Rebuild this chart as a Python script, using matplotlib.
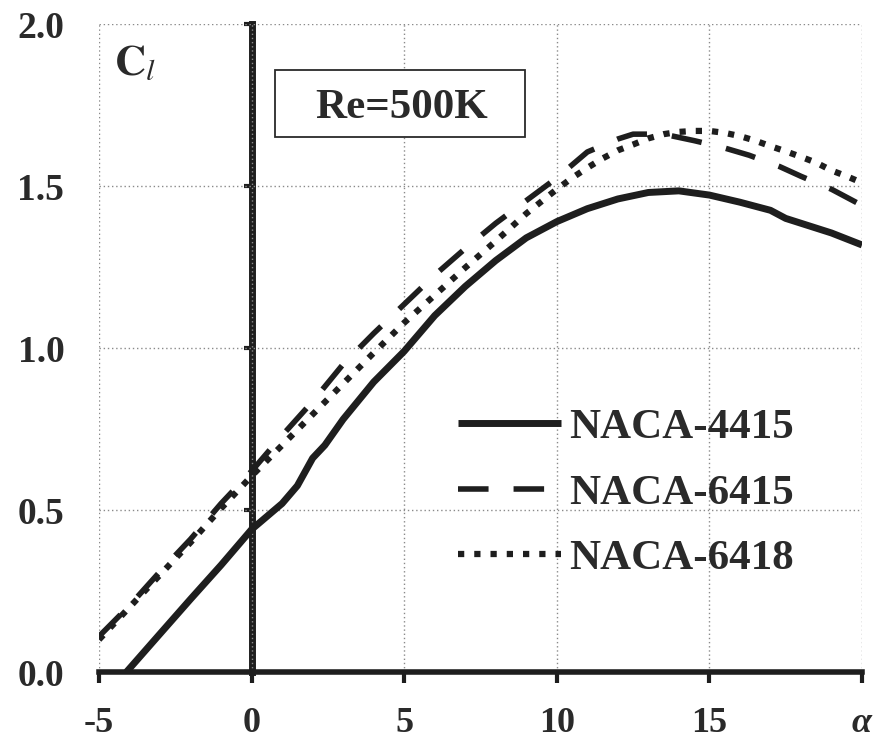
import matplotlib
matplotlib.use("Agg")
import matplotlib.pyplot as plt
from matplotlib.patches import Rectangle

plt.rcParams['font.family'] = ['Liberation Serif', 'DejaVu Serif']
plt.rcParams['mathtext.fontset'] = 'stix'

# ---- data ----
alpha_4415 = [-4.1, -3, -2, -1, 0, 0.5, 1.0, 1.5, 2.0, 2.4, 3, 4, 5, 6, 7, 8, 9, 10,
              11, 12, 13, 14, 15, 16, 17, 17.5, 18, 19, 20]
cl_4415 = [0.0, 0.118, 0.225, 0.33, 0.44, 0.48, 0.52, 0.575, 0.66, 0.70, 0.78, 0.895,
           0.99, 1.10, 1.19, 1.27, 1.34, 1.39, 1.43, 1.46, 1.48, 1.485, 1.472, 1.45,
           1.425, 1.40, 1.385, 1.355, 1.318]

alpha_6415 = [-5, -4, -3, -2, -1, 0, 1, 2, 3, 4, 5, 6, 7, 8, 9, 10, 11, 12, 12.5,
              13.5, 14.5, 15.4, 16.3, 17.3, 18, 19, 20]
cl_6415 = [0.11, 0.205, 0.31, 0.41, 0.52, 0.62, 0.73, 0.835, 0.95, 1.045, 1.135,
           1.225, 1.307, 1.385, 1.455, 1.525, 1.605, 1.645, 1.66, 1.66, 1.64, 1.62,
           1.595, 1.56, 1.53, 1.49, 1.44]

alpha_6418 = [-5, -4, -3, -2, -1, 0, 1, 2, 3, 4, 5, 6, 7, 8, 9, 10, 10.5, 11, 11.5,
              12, 12.5, 13, 13.5, 14, 14.5, 15, 15.5, 16, 16.5, 17, 17.5, 18, 18.5,
              19, 19.5, 20]
cl_6418 = [0.10, 0.20, 0.30, 0.40, 0.505, 0.605, 0.70, 0.795, 0.89, 0.985, 1.078,
           1.163, 1.248, 1.33, 1.415, 1.49, 1.525, 1.556, 1.585, 1.61, 1.628, 1.647,
           1.66, 1.667, 1.67, 1.67, 1.664, 1.654, 1.64, 1.623, 1.607, 1.59, 1.572,
           1.548, 1.53, 1.51]

x_ticks = [-5, 0, 5, 10, 15, 20]
x_ticklabels = ['-5', '0', '5', '10', '15', 'α']
y_ticks = [0.0, 0.5, 1.0, 1.5, 2.0]
y_ticklabels = ['0.0', '0.5', '1.0', '1.5', '2.0']
series_names = ['NACA-4415', 'NACA-6415', 'NACA-6418']

ink = '#1e1e1e'
txt = '#2a2a2a'

fig = plt.figure(figsize=(8.81, 7.45), dpi=100)
ax = fig.add_axes([99 / 881, 73 / 745, 763 / 881, 648 / 745])

ax.plot(alpha_4415, cl_4415, color=ink, lw=5.0, solid_capstyle='butt',
        solid_joinstyle='round', label=series_names[0], zorder=5)
ax.plot(alpha_6415, cl_6415, color=ink, lw=4.0, linestyle=(0, (5.5, 4.5)),
        dash_capstyle='butt', label=series_names[1], zorder=5)
ax.plot(alpha_6418, cl_6418, color=ink, lw=4.5, linestyle=(0, (1.0, 1.6)),
        dash_capstyle='butt', label=series_names[2], zorder=5)

ax.set_xlim(-5, 20)
ax.set_ylim(0, 2)

ax.set_xticks(x_ticks)
ax.set_xticklabels(x_ticklabels)
ax.set_yticks(y_ticks)
ax.set_yticklabels(y_ticklabels)
ax.get_xticklabels()[-1].set_fontstyle('italic')

for s in ['top', 'right', 'left']:
    ax.spines[s].set_visible(False)
ax.spines['bottom'].set_linewidth(4)
ax.spines['bottom'].set_color(ink)
ax.spines['bottom'].set_zorder(6)

ax.tick_params(axis='x', direction='out', length=8, width=3, color=ink, pad=17,
               labelsize=26, labelcolor=txt)
ax.tick_params(axis='y', length=0, pad=25, labelsize=27, labelcolor=txt)
for lab in ax.get_xticklabels() + ax.get_yticklabels():
    lab.set_fontweight('bold')

ax.grid(True, linestyle=(0, (1, 2)), color='#8a8a8a', lw=1.0)
ax.set_axisbelow(True)

# vertical axis at alpha = 0
sec = ax.secondary_yaxis(0, transform=ax.transData)
sec.spines['left'].set_linewidth(5)
sec.spines['left'].set_color(ink)
sec.set_yticks(y_ticks)
sec.tick_params(axis='y', direction='out', length=6, width=3, color=ink,
                labelleft=False)

ax.text(0.020, 0.968, r'$\mathbf{C}_{\mathit{l}}$', transform=ax.transAxes,
        fontsize=31, color=txt, ha='left', va='top')

# Re box
ax.add_patch(Rectangle((0.2307, 0.8256), 0.3276, 0.1034, transform=ax.transAxes,
                       fill=True, fc='white', ec=txt, lw=1.3, zorder=4))
ax.text(0.3965, 0.855, 'Re=500K', transform=ax.transAxes, fontsize=31,
        fontweight='bold', color=txt, ha='center', va='baseline', zorder=5)

leg = ax.legend(loc='upper left', bbox_to_anchor=(0.470, 0.408), frameon=False,
                fontsize=31, handlelength=2.4, handletextpad=0.2,
                labelspacing=0.62, borderpad=0, borderaxespad=0)
for t in leg.get_texts():
    t.set_fontweight('bold')
    t.set_color(txt)

fig.savefig('out.png', dpi=100, facecolor='white')
